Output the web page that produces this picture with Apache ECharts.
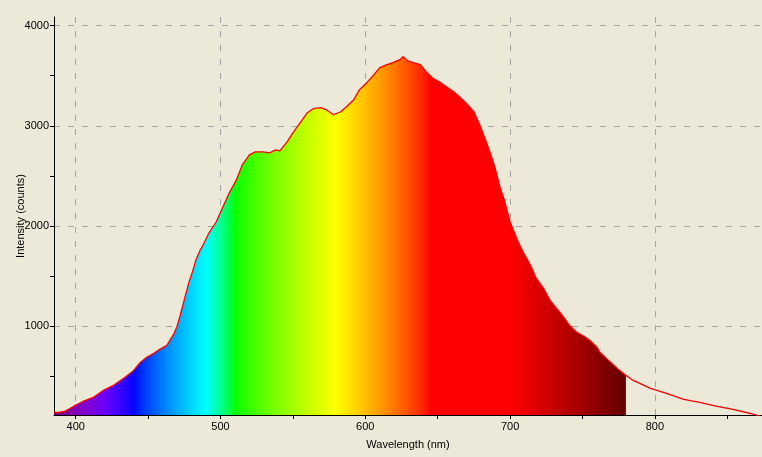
<!DOCTYPE html>
<html lang="en">
<head>
  <meta charset="UTF-8">
  <title>Spectrum</title>
  <style>
    html, body { margin: 0; padding: 0; background: #ece9d8; }
    #chart { width: 762px; height: 457px; }
  </style>
</head>
<body>
  <div id="chart"></div>
</body>
</html>
<script src="https://cdn.jsdelivr.net/npm/echarts@6.0.0/dist/echarts.min.js"></script>
<script>
  // data (nm, counts)
  var wavelengths = [385, 388, 392, 396, 400, 405, 412, 419, 426, 433, 440, 444, 449, 454, 458, 463, 465, 468, 470, 472,
    474, 476, 478, 481, 483, 486, 488, 492, 497, 501, 506, 511, 515, 520, 524, 529, 534, 538, 541, 546,
    550, 555, 560, 564, 569, 573, 578, 583, 587, 592, 596, 601, 606, 610, 615, 619, 624, 626, 629, 633,
    638, 642, 647, 652, 656, 661, 665, 670, 675, 679, 684, 687, 690, 693, 696, 700, 705, 709, 714, 718,
    723, 728, 732, 737, 741, 746, 751, 755, 760, 762, 768, 774, 780, 785, 797, 808, 820, 831, 843, 854,
    866, 872];
  var counts = [140, 140, 150, 180, 215, 250, 290, 360, 410, 480, 560, 630, 690, 730, 770, 810, 860, 930, 1000, 1100,
    1210, 1320, 1430, 1560, 1660, 1760, 1810, 1930, 2040, 2170, 2330, 2460, 2610, 2710, 2740, 2740, 2730, 2760, 2750, 2840,
    2930, 3030, 3130, 3170, 3180, 3160, 3110, 3140, 3190, 3260, 3360, 3430, 3510, 3580, 3610, 3630, 3660, 3690, 3650, 3630,
    3610, 3540, 3470, 3430, 3390, 3340, 3290, 3220, 3140, 3010, 2820, 2700, 2560, 2390, 2260, 2040, 1860, 1740, 1610, 1480,
    1380, 1250, 1180, 1090, 1010, 940, 900, 860, 790, 740, 660, 580, 510, 460, 380, 330, 270, 240, 200, 170,
    130, 105];

  var xTicks = [400, 450, 500, 550, 600, 650, 700, 750, 800, 850];
  var xLabels = [400, 500, 600, 700, 800];
  var yTicks = [500, 1000, 1500, 2000, 2500, 3000, 3500, 4000];
  var yLabels = [1000, 2000, 3000, 4000];
  var xMin = 385, xMax = 874;
  var yMin = 115, yMax = 4085;
  var fillEnd = 780; // visible spectrum ends here

  // wavelength -> rgb (Bruton)
  function spectrumColor(w) {
    var r = 0, g = 0, b = 0;
    if (w < 440) { r = -(w - 440) / 60; b = 1; }
    else if (w < 490) { g = (w - 440) / 50; b = 1; }
    else if (w < 510) { g = 1; b = -(w - 510) / 20; }
    else if (w < 580) { r = (w - 510) / 70; g = 1; }
    else if (w < 645) { r = 1; g = -(w - 645) / 65; }
    else { r = 1; }
    var f = 1;
    if (w < 420) f = 0.3 + 0.7 * (w - 380) / 40;
    else if (w > 700) f = 0.3 + 0.7 * (780 - w) / 80;
    function c(x) { return x <= 0 ? 0 : Math.round(255 * Math.pow(x * f, 0.8)); }
    return 'rgb(' + c(r) + ',' + c(g) + ',' + c(b) + ')';
  }

  var allData = [], fillData = [];
  for (var i = 0; i < wavelengths.length; i++) {
    allData.push([wavelengths[i], counts[i]]);
    if (wavelengths[i] <= fillEnd) fillData.push([wavelengths[i], counts[i]]);
  }
  var fillStart = fillData[0][0];
  var stops = [];
  for (var w = fillStart; w <= fillEnd; w += 2) {
    stops.push({ offset: (w - fillStart) / (fillEnd - fillStart), color: spectrumColor(w) });
  }

  var font = { color: '#000', fontFamily: 'Liberation Sans', fontSize: 11 };
  var gridLine = { show: true, lineStyle: { color: '#a3a3a3', width: 1, type: [6, 8] } };
  function plain(v) { return String(v); }

  var chart = echarts.init(document.getElementById('chart'));
  var option = {
    backgroundColor: '#ece9d8',
    animation: false,
    grid: { left: 54, right: 0, top: 17, bottom: 42, outerBoundsMode: 'none', containLabel: false },
    xAxis: [{
      type: 'value', min: xMin, max: xMax, position: 'bottom',
      name: 'Wavelength (nm)', nameLocation: 'middle', nameGap: 24,
      nameTextStyle: font,
      axisLine: { lineStyle: { color: '#000', width: 1 } },
      axisTick: { customValues: xTicks, length: 4, lineStyle: { color: '#000' } },
      axisLabel: Object.assign({ customValues: xLabels, margin: 6, formatter: plain }, font),
      splitLine: { show: false }
    }, {
      // only for the dashed grid lines
      type: 'value', min: xMin, max: xMax, position: 'top',
      axisLine: { show: false },
      axisTick: { show: false, customValues: xLabels },
      axisLabel: { show: false },
      splitLine: gridLine
    }],
    yAxis: [{
      type: 'value', min: yMin, max: yMax, position: 'left',
      name: 'Intensity (counts)', nameLocation: 'middle', nameGap: 28, nameMoveOverlap: false,
      nameTextStyle: font,
      axisLine: { show: true, lineStyle: { color: '#000', width: 1 } },
      axisTick: { show: true, customValues: yTicks, length: 4, lineStyle: { color: '#000' } },
      axisLabel: Object.assign({ customValues: yLabels, margin: 5, formatter: plain }, font),
      splitLine: { show: false }
    }, {
      type: 'value', min: yMin, max: yMax, position: 'right',
      axisLine: { show: false },
      axisTick: { show: false, customValues: yLabels },
      axisLabel: { show: false },
      splitLine: gridLine
    }],
    series: [{
      type: 'line',
      data: fillData,
      showSymbol: false,
      silent: true,
      lineStyle: { opacity: 0 },
      areaStyle: { opacity: 1, color: new echarts.graphic.LinearGradient(0, 0, 1, 0, stops) },
      z: 2
    }, {
      type: 'line',
      data: allData,
      showSymbol: false,
      lineStyle: { color: '#ff0000', width: 1.3 },
      z: 3
    }]
  };
  chart.setOption(option);
</script>
